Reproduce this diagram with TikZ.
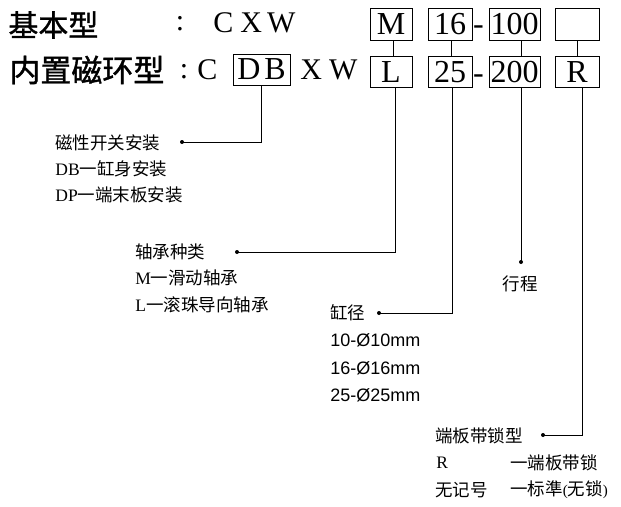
\documentclass[tikz,border=0pt]{standalone}
\usepackage{fontspec}
\setmainfont{Liberation Serif}
\newfontfamily\cjk{Noto Sans CJK SC}
\newfontfamily\cjkhead[FakeBold=1.2]{Noto Sans CJK SC}
\newfontfamily\helv{Liberation Sans}
\tikzset{
  codebox/.style={draw, inner sep=0pt, minimum height=31pt, font=\fontsize{32}{32}\selectfont},
  head/.style={anchor=west, inner sep=0pt, font=\fontsize{30}{30}\selectfont},
  dot/.style={circle, fill, inner sep=0pt, minimum size=4pt},
  desc/.style={anchor=west, inner sep=0pt, font=\fontsize{17.5}{17.5}\selectfont},
  num/.style={anchor=west, inner sep=0pt, font=\helv\fontsize{18}{18}\selectfont}
}
\begin{document}
\begin{tikzpicture}[x=1pt,y=-1pt,line width=0.8pt]
        \useasboundingbox (0,0) rectangle (621,506);
        % heading rows
        \node[head,font=\cjkhead\fontsize{30}{30}\selectfont] (basic) at (8,25) {基本型};
        \node[head,anchor=center] (colonA) at (180,24) {:};
        \node[head] (cxw) at (213,23) {C\hspace{7pt}X\hspace{5pt}W};
        \node[head,font=\cjkhead\fontsize{31}{31}\selectfont] (magnetic) at (9,70) {内置磁环型};
        \node[head,anchor=center] (colonB) at (184,72) {:};
        \node[head] (c) at (197,70) {C};
        \node[codebox,minimum width=57pt] (DB) at (261.5,69.5) {D\hspace{4pt}B};
        \node[head] (xw) at (300,70) {X\hspace{7pt}W};
        % code boxes
        \node[codebox,minimum width=42pt,minimum height=32pt] (M) at (391,24) {M};
        \node[codebox,minimum width=44pt,minimum height=32pt] (n16) at (450,24) {16};
        \node[anchor=base,inner sep=0pt,font=\fontsize{32}{32}\selectfont] (dashA) at (478.5,34) {-};
        \node[codebox,minimum width=51pt,minimum height=32pt] (n100) at (514.5,24) {100};
        \node[codebox,minimum width=44pt,minimum height=32pt] (blank) at (577,24) {};
        \node[codebox,minimum width=42pt] (L) at (391,72) {L};
        \node[codebox,minimum width=44pt] (n25) at (450,72) {25};
        \node[anchor=base,inner sep=0pt,font=\fontsize{32}{32}\selectfont] (dashB) at (478.5,83) {-};
        \node[codebox,minimum width=51pt] (n200) at (514.5,72) {200};
        \node[codebox,minimum width=44pt] (R) at (577,72) {R};
        \draw ([xshift=2pt]M.south) -- ([xshift=2pt]L.north);
        \draw ([xshift=1pt]n16.south) -- ([xshift=1pt]n25.north);
        \draw ([xshift=6.5pt]n100.south) -- ([xshift=6.5pt]n200.north);
        \draw (blank) -- (R);
        % magnetic switch mounting
        \node[desc] (switch) at (55,143) {\cjk 磁性开关安装};
        \node[desc] (db) at (55,169) {DB\cjk 一缸身安装};
        \node[desc] (dp) at (55,195) {DP\cjk 一端末板安装};
        \node[dot] (d1) at (182,142) {};
        \draw (DB.south) |- (d1.center);
        % bearing type
        \node[desc] (bearing) at (135,252) {\cjk 轴承种类};
        \node[desc] (slide) at (135,278) {M\cjk 一滑动轴承};
        \node[desc] (ball) at (135,305) {L\cjk 一滚珠导向轴承};
        \node[dot] (d2) at (237,252) {};
        \draw ([xshift=4pt]L.south) |- (d2.center);
        % bore
        \node[desc] (bore) at (330,313) {\cjk 缸径};
        \node[num] (b10) at (330,340) {10-Ø10mm};
        \node[num] (b16) at (330,368) {16-Ø16mm};
        \node[num] (b25) at (330,395) {25-Ø25mm};
        \node[dot] (d3) at (379,313) {};
        \draw ([xshift=2pt]n25.south) |- (d3.center);
        % stroke
        \node[dot] (d4) at (521,262) {};
        \node[desc,anchor=center] (stroke) at (520,284) {\cjk 行程};
        \draw ([xshift=6.5pt]n200.south) -- (d4.center);
        % end plate lock
        \node[desc] (lock) at (435,436) {\cjk 端板带锁型};
        \node[desc] (r) at (436,463) {R};
        \node[desc] (rtext) at (510,463) {\cjk 一端板带锁};
        \node[desc] (none) at (435,490) {\cjk 无记号};
        \node[desc] (ntext) at (510,490) {{\cjk 一标準}{\fontsize{15}{15}\selectfont(}{\cjk 无锁}{\fontsize{15}{15}\selectfont)}};
        \node[dot] (d5) at (543,435) {};
        \draw ([xshift=5pt]R.south) |- (d5.center);
\end{tikzpicture}
\end{document}
